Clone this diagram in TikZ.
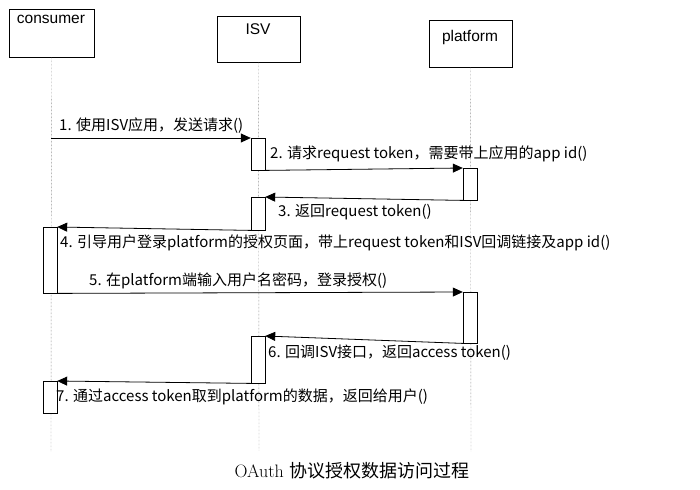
\documentclass[tikz,border=0pt]{standalone}
\usepackage{fontspec}
\setmainfont{Liberation Sans}
\newfontfamily\cjk{Noto Sans CJK SC}
\usetikzlibrary{arrows.meta}
\tikzset{
  obj/.style={draw,rectangle,inner sep=0pt},
  objname/.style={anchor=north,font=\fontsize{15.5}{17}\selectfont},
  act/.style={draw,fill=white,rectangle,minimum width=14pt,anchor=north,inner sep=0pt},
  life/.style={densely dotted,gray!70!black},
  msg/.style={-{Triangle[length=10pt,width=9pt]},thick},
  lbl/.style={anchor=west,font=\cjk\fontsize{15}{17}\selectfont,inner sep=0pt}
}
\begin{document}
\begin{tikzpicture}[x=1pt,y=-1pt]
\useasboundingbox (0,0) rectangle (700,489);

% objects
\node[obj,minimum width=85pt,minimum height=48pt] (consumer) at (51.5,33) {};
\node[objname] at (51,12) {consumer};
\node[obj,minimum width=83pt,minimum height=46pt] (isv) at (258.5,39) {};
\node[objname] at (258,20) {ISV};
\node[obj,minimum width=83pt,minimum height=47pt] (plat) at (470.5,43.5) {};
\node[objname] at (470,27) {platform};

% lifelines
\coordinate (ce) at (51,451);
\coordinate (ie) at (259,451);
\coordinate (pe) at (471,451);
\draw[life] (consumer.south) -- (ce);
\draw[life] (isv.south) -- (ie);
\draw[life] (plat.south) -- (pe);

% activations
\node[act,minimum height=32pt] (i1) at (258,138) {};
\node[act,minimum height=32pt] (p1) at (470,168) {};
\node[act,minimum height=33pt] (i2) at (258,197) {};
\node[act,minimum height=66pt] (c1) at (50,227) {};
\node[act,minimum height=51pt] (p2) at (470,292) {};
\node[act,minimum height=47pt] (i3) at (258,336) {};
\node[act,minimum height=32pt] (c2) at (50,381) {};

% messages
\coordinate (m1) at (51,138);
\draw[msg] (m1) -- (i1.north west);
\draw[msg] (i1.south east) -- (p1.north west);
\draw[msg] (p1.south west) -- (i2.north east);
\draw[msg] (i2.south west) -- (c1.north east);
\draw[msg] (c1.south east) -- (p2.north west);
\draw[msg] (p2.south west) -- (i3.north east);
\draw[msg] (i3.south west) -- (c2.north east);

\node[lbl] at (59,126) {1. 使用ISV应用，发送请求()};
\node[lbl] at (270,154) {2. 请求request token，需要带上应用的app id()};
\node[lbl] at (278,212) {3. 返回request token()};
\node[lbl] at (60,243) {4. 引导用户登录platform的授权页面，带上request token和ISV回调链接及app id()};
\node[lbl] at (89,281) {5. 在platform端输入用户名密码，登录授权()};
\node[lbl] at (268,353) {6. 回调ISV接口，返回access token()};
\node[lbl] at (56,397) {7. 通过access token取到platform的数据，返回给用户()};

% caption
\node (cap) at (352,471) {\fontsize{18}{20}\selectfont\fontspec{Latin Modern Roman}OAuth {\cjk 协议授权数据访问过程}};
\end{tikzpicture}
\end{document}
